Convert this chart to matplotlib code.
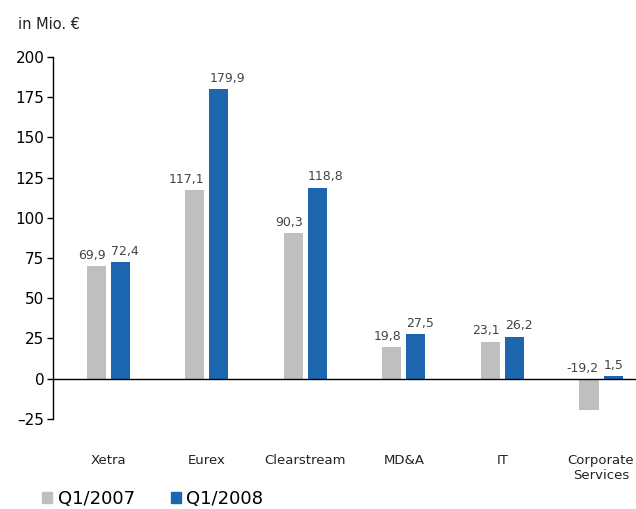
import matplotlib
matplotlib.use("Agg")
import matplotlib.pyplot as plt
import numpy as np
from matplotlib.patches import Patch

categories = ["Xetra", "Eurex", "Clearstream", "MD&A", "IT", "Corporate\nServices"]
q1_2007 = [69.9, 117.1, 90.3, 19.8, 23.1, -19.2]
q1_2008 = [72.4, 179.9, 118.8, 27.5, 26.2, 1.5]
series_names = ["Q1/2007", "Q1/2008"]
yticks = [-25, 0, 25, 50, 75, 100, 125, 150, 175, 200]

GRAY = "#bfbfbf"
BLUE = "#1c66b0"

plt.rcParams["font.family"] = ["DejaVu Sans"]

fig = plt.figure(figsize=(6.36, 5.09), dpi=100)
ax = fig.add_axes([0.083, 0.177, 0.917, 0.711])

x = np.arange(len(categories))
w = 0.193
off = 0.122
ax.bar(x - off, q1_2007, width=w, color=GRAY, zorder=2)
ax.bar(x + off, q1_2008, width=w, color=BLUE, zorder=2)

def fmt(v):
    return f"{v:.1f}".replace(".", ",")

for xi, v in zip(x - off + w / 2, q1_2007):
    ax.annotate(fmt(v), (xi, max(v, 0)), xytext=(0, 3), textcoords="offset points",
                ha="right", va="bottom", fontsize=9, color="#444444")
for xi, v in zip(x + off - w / 2, q1_2008):
    ax.annotate(fmt(v), (xi, max(v, 0)), xytext=(0, 3), textcoords="offset points",
                ha="left", va="bottom", fontsize=9, color="#444444")

ax.axhline(0, color="black", lw=1, zorder=3)
ax.set_xlim(-0.563, 5.355)
ax.set_ylim(-25, 200)
ax.set_yticks(yticks)
ax.set_yticklabels([str(t).replace("-", "\u2013") for t in yticks], fontsize=11)
ax.set_xticks(x)
ax.set_xticklabels(categories, fontsize=9.5, color="#222222", linespacing=1.25)
ax.tick_params(axis="x", length=0, pad=25)
ax.tick_params(axis="y", length=4, width=1, direction="out", pad=2)
for s in ("top", "right", "bottom"):
    ax.spines[s].set_visible(False)
ax.spines["left"].set_linewidth(1)

fig.text(0.028, 0.951, "in Mio. €", fontsize=10.5, va="center", ha="left", color="#222222")

handles = [Patch(color=GRAY), Patch(color=BLUE)]
fig.legend(handles, series_names, loc="lower left", bbox_to_anchor=(0.041, -0.03),
           ncol=2, frameon=False, fontsize=13, handlelength=0.55, handleheight=0.55,
           handletextpad=0.3, columnspacing=2.0)

fig.savefig("out.png", dpi=100)
